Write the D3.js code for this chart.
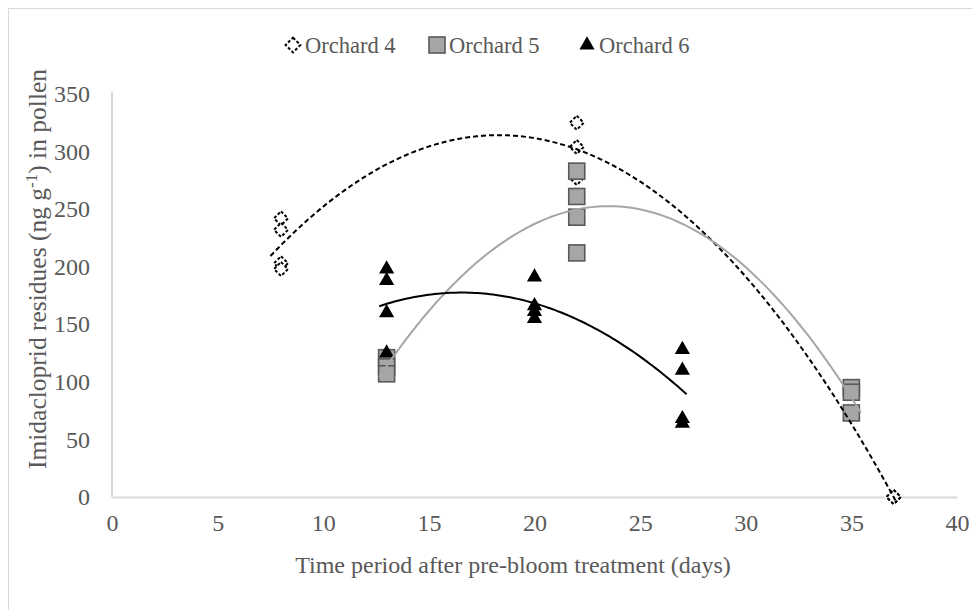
<!DOCTYPE html>
<html>
<head>
<meta charset="utf-8">
<script src="https://cdn.jsdelivr.net/npm/d3@7"></script>
<style>
  html, body { margin: 0; padding: 0; background: #fff; }
  svg text { font-family: "Liberation Serif", Tinos, "Times New Roman", "DejaVu Serif", serif !important; }
</style>
</head>
<body>
<svg id="chart" width="972" height="610"></svg>
<script>
// ---- data ----
const seriesNames = ["Orchard 4", "Orchard 5", "Orchard 6"];
const orchard4X = [8, 8, 8, 8, 22, 22, 22, 37, 37, 37];
const orchard4Y = [242, 232, 203, 198, 325, 304, 277, 0, 0, 0];
const orchard5X = [13, 13, 13, 22, 22, 22, 22, 35, 35, 35];
const orchard5Y = [121, 113, 107, 283, 261, 243, 212, 95, 91, 73];
const orchard6X = [13, 13, 13, 13, 20, 20, 20, 20, 27, 27, 27, 27];
const orchard6Y = [198, 188, 160, 125, 191, 166, 161, 155, 128, 110, 68, 64];
const xTicks = [0, 5, 10, 15, 20, 25, 30, 35, 40];
const yTicks = [0, 50, 100, 150, 200, 250, 300, 350];

const FONT = '"Liberation Serif", Tinos, "Times New Roman", "DejaVu Serif", serif';
const svg = d3.select("#chart").attr("font-family", FONT);
const x = d3.scaleLinear().domain([0, 40]).range([112, 957]);
const y = d3.scaleLinear().domain([0, 350]).range([497, 94]);

// chart border
svg.append("rect").attr("x", 8.5).attr("y", 8.5).attr("width", 980).attr("height", 620)
  .attr("fill", "#fff").attr("stroke", "#d9d9d9").attr("stroke-width", 1);

// axes
const axisColor = "#d9d9d9";
const textColor = "#595959";
const xAxis = svg.append("g").attr("transform", `translate(0,${y(0)})`)
  .call(d3.axisBottom(x).tickValues(xTicks).tickSize(0).tickPadding(17).tickFormat(d3.format("d")));
xAxis.attr("font-family", FONT);
xAxis.select(".domain").attr("stroke", axisColor).attr("stroke-width", 2);
xAxis.selectAll("text").attr("fill", textColor).attr("font-size", 24);

const yAxis = svg.append("g").attr("transform", `translate(${x(0)},0)`)
  .call(d3.axisLeft(y).tickValues(yTicks).tickSize(0).tickPadding(22).tickFormat(d3.format("d")));
yAxis.attr("font-family", FONT);
yAxis.select(".domain").attr("stroke", axisColor).attr("stroke-width", 2)
  .attr("d", `M0,${y(352)}V${y(0)}`);
yAxis.selectAll("text").attr("fill", textColor).attr("font-size", 24);

// axis titles
svg.append("text").attr("x", 513).attr("y", 573).attr("text-anchor", "middle")
  .attr("fill", textColor).attr("font-size", 24)
  .text("Time period after pre-bloom treatment (days)");

const yt = svg.append("text").attr("transform", "translate(46,269) rotate(-90)")
  .attr("text-anchor", "middle").attr("fill", textColor).attr("font-size", 25.5);
yt.append("tspan").text("Imidacloprid residues (ng g");
yt.append("tspan").attr("dy", -9).attr("font-size", 17).text("-1");
yt.append("tspan").attr("dy", 9).text(") in pollen");

// polynomial (order 2) least-squares trendline
function polyFit(xs, ys) {
  const n = xs.length;
  let s = [0,0,0,0,0], t = [0,0,0];
  for (let i = 0; i < n; i++) {
    let p = 1;
    for (let k = 0; k < 5; k++) { s[k] += p; p *= xs[i]; }
    p = 1;
    for (let k = 0; k < 3; k++) { t[k] += p * ys[i]; p *= xs[i]; }
  }
  const A = [[s[0], s[1], s[2], t[0]], [s[1], s[2], s[3], t[1]], [s[2], s[3], s[4], t[2]]];
  for (let c = 0; c < 3; c++) {
    let piv = c;
    for (let r = c + 1; r < 3; r++) if (Math.abs(A[r][c]) > Math.abs(A[piv][c])) piv = r;
    [A[c], A[piv]] = [A[piv], A[c]];
    for (let r = 0; r < 3; r++) {
      if (r === c) continue;
      const f = A[r][c] / A[c][c];
      for (let k = c; k < 4; k++) A[r][k] -= f * A[c][k];
    }
  }
  return [A[0][3] / A[0][0], A[1][3] / A[1][1], A[2][3] / A[2][2]];
}
function trendPath(xs, ys, ext0, ext1) {
  const [a, b, c] = polyFit(xs, ys);
  const x0 = d3.min(xs) - ext0, x1 = d3.max(xs) + ext1;
  const pts = d3.range(0, 101).map(i => {
    const xv = x0 + (x1 - x0) * i / 100;
    return [x(xv), y(a + b * xv + c * xv * xv)];
  });
  return d3.line()(pts);
}

// markers
const gPts = svg.append("g");
const diamond = d3.symbol().type(d3.symbolSquare).size(98);
gPts.selectAll(".o4").data(orchard4X.map((d, i) => [d, orchard4Y[i]])).join("path")
  .attr("d", diamond())
  .attr("transform", d => `translate(${x(d[0])},${y(d[1])}) rotate(45)`)
  .attr("fill", "#fff").attr("stroke", "#000").attr("stroke-width", 2)
  .attr("stroke-dasharray", "3,2");
gPts.selectAll(".o5").data(orchard5X.map((d, i) => [d, orchard5Y[i]])).join("rect")
  .attr("x", d => x(d[0]) - 8).attr("y", d => y(d[1]) - 8)
  .attr("width", 16).attr("height", 16)
  .attr("fill", "#a6a6a6").attr("stroke", "#595959").attr("stroke-width", 1.6);
const tri = d3.symbol().type(d3.symbolTriangle).size(100);
gPts.selectAll(".o6").data(orchard6X.map((d, i) => [d, orchard6Y[i]])).join("path")
  .attr("d", tri())
  .attr("transform", d => `translate(${x(d[0])},${y(d[1])})`)
  .attr("fill", "#000");

// trendlines
svg.append("path").attr("d", trendPath(orchard4X, orchard4Y, 0.5, 0.1))
  .attr("fill", "none").attr("stroke", "#000").attr("stroke-width", 2).attr("stroke-dasharray", "5,3");
svg.append("path").attr("d", trendPath(orchard5X, orchard5Y, 0.35, 0.45))
  .attr("fill", "none").attr("stroke", "#a6a6a6").attr("stroke-width", 2);
svg.append("path").attr("d", trendPath(orchard6X, orchard6Y, 0.35, 0.2))
  .attr("fill", "none").attr("stroke", "#000").attr("stroke-width", 2);

// legend
const leg = svg.append("g");
const ly = 45;
const legX = [293, 437, 587];
leg.append("path").attr("d", d3.symbol().type(d3.symbolSquare).size(110)()).attr("transform", `translate(${legX[0]},${ly}) rotate(45)`)
  .attr("fill", "#fff").attr("stroke", "#000").attr("stroke-width", 2).attr("stroke-dasharray", "3,2");
leg.append("rect").attr("x", legX[1] - 8).attr("y", ly - 8).attr("width", 16).attr("height", 16)
  .attr("fill", "#a6a6a6").attr("stroke", "#595959").attr("stroke-width", 1.6);
leg.append("path").attr("d", tri()).attr("transform", `translate(${legX[2]},${ly})`).attr("fill", "#000");
seriesNames.forEach((nm, i) => {
  leg.append("text").attr("x", legX[i] + 12).attr("y", ly + 8).attr("fill", textColor)
    .attr("font-size", 22.5).text(nm);
});
</script>
</body>
</html>
